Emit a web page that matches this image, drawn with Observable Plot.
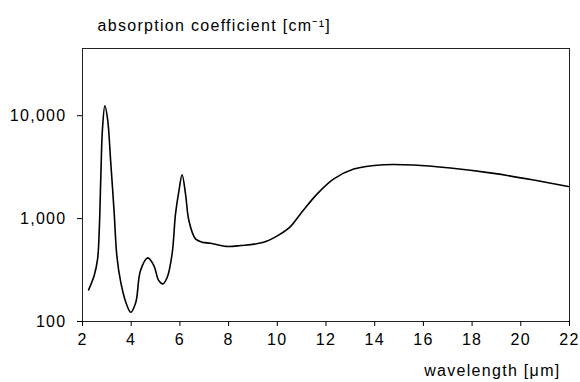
<!DOCTYPE html>
<html>
<head>
<meta charset="utf-8">
<script src="https://cdn.jsdelivr.net/npm/d3@7"></script>
<script src="https://cdn.jsdelivr.net/npm/@observablehq/plot@0.6"></script>
<style>
  html, body { margin: 0; padding: 0; background: white; }
</style>
</head>
<body>
<div id="chart"></div>
<script>
const wavelength = [2.25, 2.48, 2.62, 2.69, 2.75, 2.82, 2.92, 3.03, 3.16, 3.30, 3.41, 3.57, 3.78, 3.98, 4.19, 4.38, 4.68, 4.93, 5.13, 5.30, 5.48, 5.68, 5.82, 5.96, 6.09, 6.23, 6.37, 6.64, 6.92, 7.26, 7.90, 8.49, 9.40, 10.00, 10.54, 10.95, 11.64, 12.32, 13.14, 14.37, 15.61, 17.11, 18.89, 20.53, 21.95];
const absorption = [203, 280, 406, 794, 2430, 7430, 12500, 9290, 3520, 1150, 437, 241, 154, 123, 154, 312, 415, 350, 250, 232, 269, 454, 1110, 1860, 2670, 1740, 955, 635, 589, 576, 537, 547, 585, 680, 836, 1110, 1740, 2430, 3030, 3340, 3320, 3100, 2750, 2370, 2050];
const xTicks = [2, 4, 6, 8, 10, 12, 14, 16, 18, 20, 22];
const yTicks = [100, 1000, 10000];
const yTitle = "absorption coefficient [cm⁻¹]";
const xTitle = "wavelength [μm]";

const data = wavelength.map((x, i) => ({x, y: absorption[i]}));

const chart = Plot.plot({
  width: 580,
  height: 382,
  marginTop: 48,
  marginBottom: 61,
  marginLeft: 82,
  marginRight: 11,
  style: {fontFamily: "'Liberation Sans', Arial, sans-serif", fontSize: "16px", letterSpacing: "1.3px", background: "white", color: "black"},
  x: {domain: [2, 22]},
  y: {type: "log", domain: [100, 45000]},
  marks: [
    Plot.frame({stroke: "#222", strokeWidth: 1}),
    Plot.axisX({ticks: xTicks, tickSize: 5, tickPadding: 7, fontSize: 16, label: null}),
    Plot.axisY({ticks: yTicks, tickFormat: ",", tickSize: 5, tickPadding: 11, fontSize: 16, label: null}),
    Plot.line(data, {x: "x", y: "y", curve: "catmull-rom", stroke: "black", strokeWidth: 1.6}),
    Plot.text([yTitle], {frameAnchor: "top-left", textAnchor: "start", dx: 15, dy: -29, fontSize: 16}),
    Plot.text([xTitle], {frameAnchor: "bottom-right", textAnchor: "end", dx: -9, dy: 54, fontSize: 16})
  ]
});
document.getElementById("chart").appendChild(chart);
</script>
</body>
</html>
